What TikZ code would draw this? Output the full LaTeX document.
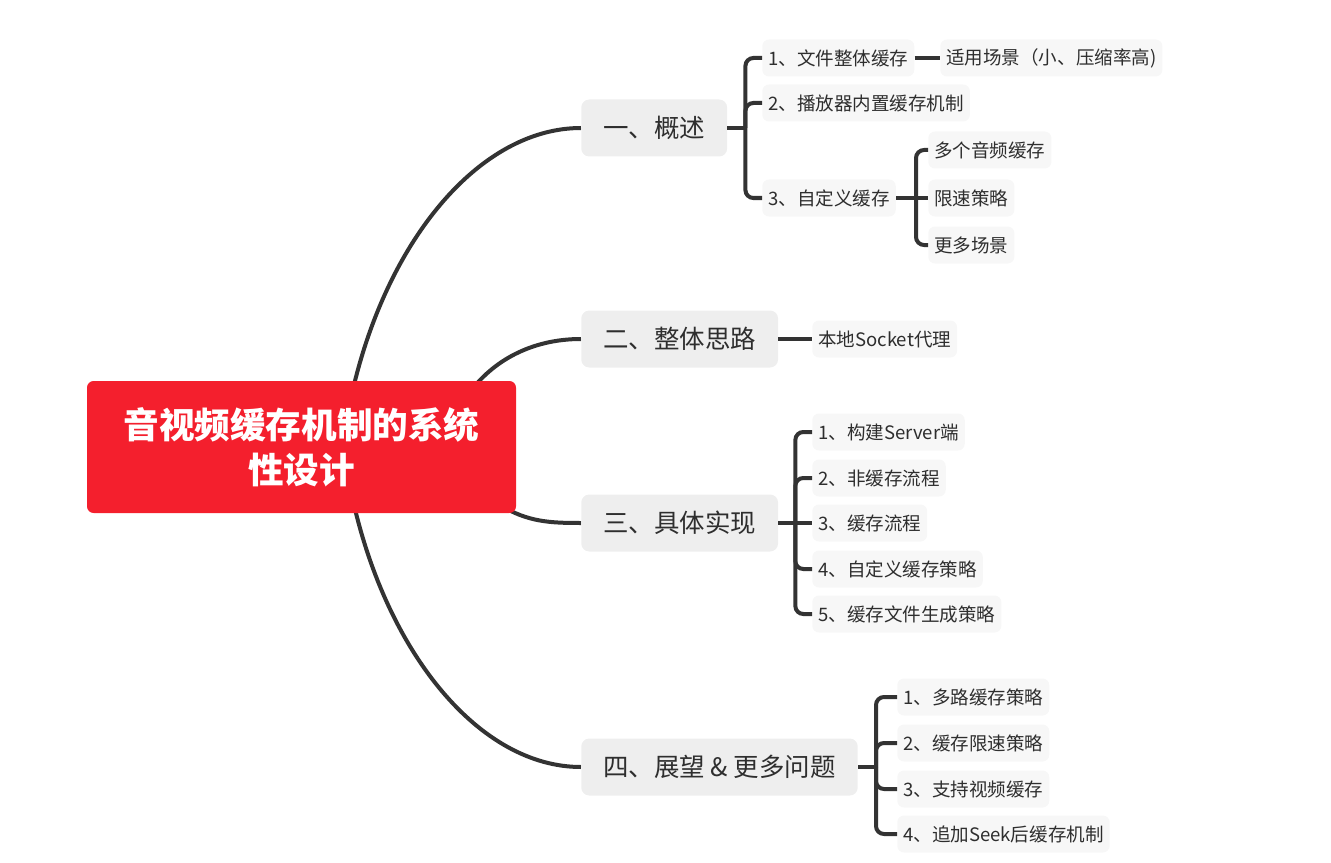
\documentclass[tikz,border=0pt]{standalone}
\usepackage{fontspec}
\newfontfamily\cjk{Noto Sans CJK SC}
\usetikzlibrary{calc,backgrounds}
\definecolor{rootred}{HTML}{F41F2D}
\definecolor{maingray}{HTML}{EEEEEE}
\definecolor{subgray}{HTML}{F7F7F7}
\definecolor{linegray}{HTML}{333333}
\definecolor{txtgray}{HTML}{2E2E2E}
\begin{document}
\begin{tikzpicture}[x=0.75pt,y=-0.75pt,
  rootnode/.style={fill=rootred,rounded corners=5pt,minimum width=321.75pt,minimum height=99pt,
    text=white,align=center,inner sep=0pt,font=\cjk\bfseries\fontsize{26.7}{33.75}\selectfont},
  mainnode/.style={fill=maingray,rounded corners=6pt,minimum height=42.75pt,inner xsep=16.5pt,inner ysep=0pt,
    text=txtgray,anchor=west,font=\cjk\fontsize{19.1}{22}\selectfont},
  subnode/.style={fill=subgray,rounded corners=5pt,minimum height=27.75pt,inner xsep=4.5pt,inner ysep=0pt,
    text=txtgray,anchor=west,font=\cjk\fontsize{13.9}{16}\selectfont},
  curve/.style={draw=linegray,line width=3pt},
  bracket/.style={draw=linegray,line width=3pt,rounded corners=6pt},
  link/.style={draw=linegray,line width=3pt}
]
\useasboundingbox (0,0) rectangle (1331,863);

\node[rootnode] (root) at (301.5,447) {音视频缓存机制的系统\\性设计};

\node[mainnode] (b1) at (581,128) {一、概述};
\node[mainnode] (b2) at (581,339) {二、整体思路};
\node[mainnode] (b3) at (581,523) {三、具体实现};
\node[mainnode] (b4) at (581,767) {四、展望 \& 更多问题};

% branch 1 children
\node[subnode] (a1) at (762,58) {1、文件整体缓存};
\node[subnode] (a11) at (940,58) {适用场景（小、压缩率高)};
\node[subnode] (a2) at (762,103) {2、播放器内置缓存机制};
\node[subnode] (a3) at (762,198) {3、自定义缓存};
\node[subnode] (a31) at (928,150) {多个音频缓存};
\node[subnode] (a32) at (928,198) {限速策略};
\node[subnode] (a33) at (928,245) {更多场景};

% branch 2 children
\node[subnode] (c1) at (812,339) {本地Socket代理};

% branch 3 children
\node[subnode] (d1) at (812,432) {1、构建Server端};
\node[subnode] (d2) at (812,478) {2、非缓存流程};
\node[subnode] (d3) at (812,523) {3、缓存流程};
\node[subnode] (d4) at (812,569) {4、自定义缓存策略};
\node[subnode] (d5) at (812,614) {5、缓存文件生成策略};

% branch 4 children
\node[subnode] (e1) at (897,697) {1、多路缓存策略};
\node[subnode] (e2) at (897,743) {2、缓存限速策略};
\node[subnode] (e3) at (897,789) {3、支持视频缓存};
\node[subnode] (e4) at (897,834) {4、追加Seek后缓存机制};

\begin{scope}[on background layer]
  \draw[curve] ($(root.north)+(50,15)$) .. controls (386,240) and (480,128) .. (b1.west);
  \draw[curve] ($(root.north)+(168,12)$) .. controls (492,362) and (530,339) .. (b2.west);
  \draw[curve] ($(root.south east)+(-16,-8)$) .. controls (528,522) and (550,523) .. (b3.west);
  \draw[curve] ($(root.south)+(51,-15)$) .. controls (387,654) and (480,767) .. (b4.west);
\end{scope}

% bracket 1
\coordinate (k1) at ($(b1.east)+(18,0)$);
\draw[link] (b1.east) -- (k1);
\draw[bracket] (k1) |- (a1.west);
\draw[bracket] (k1) |- (a2.west);
\draw[bracket] (k1) |- (a3.west);
\draw[link] (a1.east) -- (a11.west);
\coordinate (k3) at ($(a3.east)+(20,0)$);
\draw[link] (a3.east) -- (k3);
\draw[bracket] (k3) |- (a31.west);
\draw[link] (k3) -- (a32.west);
\draw[bracket] (k3) |- (a33.west);

% branch 2
\draw[link] (b2.east) -- (c1.west);

% bracket 3
\coordinate (k4) at ($(b3.east)+(17,0)$);
\draw[link] (b3.east) -- (k4);
\draw[bracket] (k4) |- (d1.west);
\draw[bracket] (k4) |- (d2.west);
\draw[link] (k4) -- (d3.west);
\draw[bracket] (k4) |- (d4.west);
\draw[bracket] (k4) |- (d5.west);

% bracket 4
\coordinate (k5) at ($(b4.east)+(18,0)$);
\draw[link] (b4.east) -- (k5);
\draw[bracket] (k5) |- (e1.west);
\draw[bracket] (k5) |- (e2.west);
\draw[bracket] (k5) |- (e3.west);
\draw[bracket] (k5) |- (e4.west);
\end{tikzpicture}
\end{document}
